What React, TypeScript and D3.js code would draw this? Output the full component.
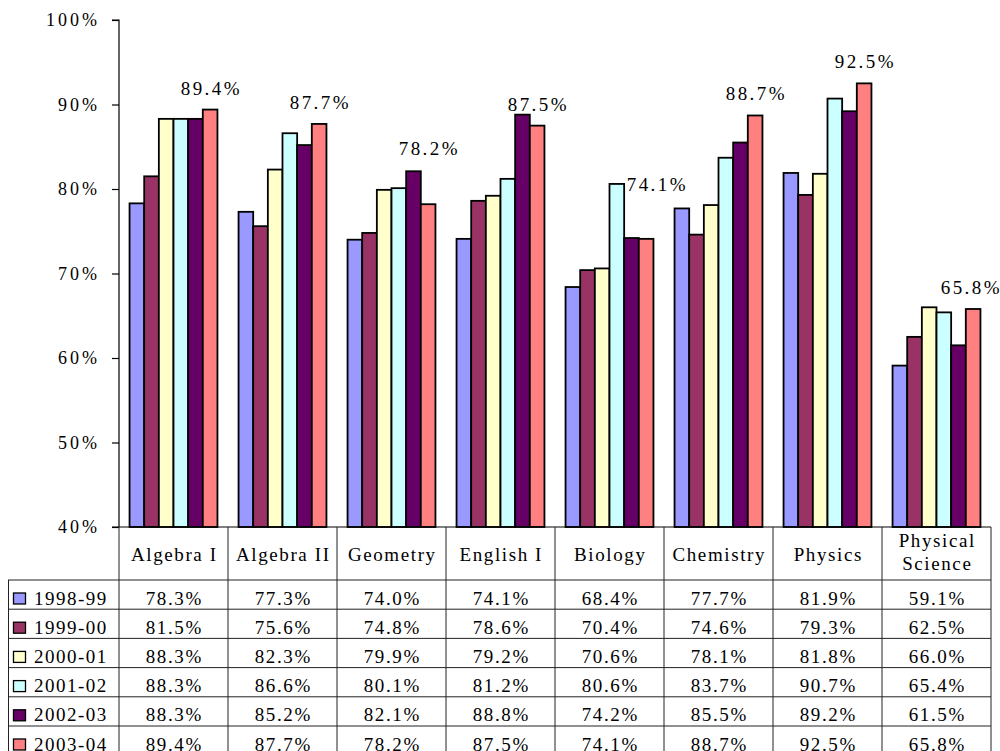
import React, { useEffect, useRef } from 'react';
import * as d3 from 'd3';

const subjects = ['Algebra I', 'Algebra II', 'Geometry', 'English I', 'Biology', 'Chemistry', 'Physics', 'Physical Science'];
const years = ['1998-99', '1999-00', '2000-01', '2001-02', '2002-03', '2003-04'];
const colors = ['#9999FF', '#993366', '#FFFFCC', '#CCFFFF', '#660066', '#FF8080'];

const v1998 = [78.3, 77.3, 74.0, 74.1, 68.4, 77.7, 81.9, 59.1];
const v1999 = [81.5, 75.6, 74.8, 78.6, 70.4, 74.6, 79.3, 62.5];
const v2000 = [88.3, 82.3, 79.9, 79.2, 70.6, 78.1, 81.8, 66.0];
const v2001 = [88.3, 86.6, 80.1, 81.2, 80.6, 83.7, 90.7, 65.4];
const v2002 = [88.3, 85.2, 82.1, 88.8, 74.2, 85.5, 89.2, 61.5];
const v2003 = [89.4, 87.7, 78.2, 87.5, 74.1, 88.7, 92.5, 65.8];
const series = [v1998, v1999, v2000, v2001, v2002, v2003];

const yTicks = [40, 50, 60, 70, 80, 90, 100];

// labels that were dragged away from their bars in the original (pixels)
const labelNudgeY = [0, 0, -34, 0, -33, 0, 0, 0];
const labelNudgeX = [0, 0, 0, 0, 10, 0, 0, -3];

export default function App() {
  const svgRef = useRef<SVGSVGElement>(null);

  const W = 1000;
  const H = 751;
  const left = 119;
  const right = 991;
  const top = 20;
  const bottom = 527;
  const headerBottom = 580;
  const rowH = 29.2;
  const font = 'Liberation Serif, Times New Roman, serif';

  useEffect(() => {
    const svg = d3.select(svgRef.current);
    svg.selectAll('*').remove();

    const x = d3.scaleBand<string>().domain(subjects).range([left, right]).paddingInner(0).paddingOuter(0);
    const x1 = d3.scaleBand<string>().domain(years).range([0, x.bandwidth()]).paddingOuter(0.72).paddingInner(0);
    const y = d3.scaleLinear().domain([40, 100]).range([bottom, top]);

    // bars
    const groups = svg.append('g')
      .selectAll('g')
      .data(subjects)
      .join('g')
      .attr('transform', d => `translate(${x(d)},0)`);

    groups.selectAll('rect')
      .data((d, i) => series.map((s, k) => ({ year: years[k], value: s[i], k })))
      .join('rect')
      .attr('x', d => x1(d.year)!)
      .attr('y', d => y(d.value))
      .attr('width', x1.bandwidth())
      .attr('height', d => bottom - y(d.value))
      .attr('fill', d => colors[d.k])
      .attr('stroke', '#000')
      .attr('stroke-width', 1.8);

    // value labels for latest year
    const ls = 2.4;
    groups.append('text')
      .attr('x', (d, i) => x1('2003-04')! + x1.bandwidth() / 2 + ls / 2 + labelNudgeX[i])
      .attr('y', (d, i) => y(v2003[i]) - 15 + labelNudgeY[i])
      .attr('text-anchor', 'middle')
      .attr('font-family', font)
      .attr('font-size', 19)
      .attr('letter-spacing', ls)
      .attr('fill', '#000')
      .text((d, i) => `${v2003[i].toFixed(1)}%`);

    // y axis
    const tls = 3;
    const yaxis = d3.axisLeft(y)
      .tickValues(yTicks)
      .tickSize(7)
      .tickFormat(d => `${d}%`);
    const ya = svg.append('g')
      .attr('transform', `translate(${left},0)`)
      .call(yaxis);
    ya.select('.domain').attr('stroke', '#000').attr('stroke-width', 1.2).attr('d', `M-7,${top}H0V${bottom}`);
    ya.selectAll('.tick line').attr('stroke', '#000').attr('stroke-width', 1.2);
    ya.selectAll('.tick text')
      .attr('x', -22 + tls)
      .attr('dy', '0.33em')
      .attr('font-family', font)
      .attr('font-size', 18)
      .attr('letter-spacing', tls)
      .attr('fill', '#000');

    // data table
    const table = svg.append('g');
    const lineColor = '#222';
    table.append('line')
      .attr('x1', left - 7).attr('x2', right)
      .attr('y1', bottom).attr('y2', bottom)
      .attr('stroke', '#000').attr('stroke-width', 1.2);

    const colEdges = subjects.map(s => x(s)!).concat([right]);
    table.selectAll('line.col')
      .data(colEdges)
      .join('line')
      .attr('class', 'col')
      .attr('x1', d => d).attr('x2', d => d)
      .attr('y1', bottom).attr('y2', H + 10)
      .attr('stroke', lineColor).attr('stroke-width', 1);

    table.append('line')
      .attr('x1', 8.5).attr('x2', 8.5)
      .attr('y1', headerBottom).attr('y2', H + 10)
      .attr('stroke', lineColor).attr('stroke-width', 1);

    const rowTops = years.map((_, i) => headerBottom + i * rowH).concat([headerBottom + years.length * rowH]);
    table.selectAll('line.row')
      .data(rowTops)
      .join('line')
      .attr('class', 'row')
      .attr('x1', 8).attr('x2', right)
      .attr('y1', d => d).attr('y2', d => d)
      .attr('stroke', lineColor).attr('stroke-width', 1);

    // header labels
    const hls = 1.6;
    const header = table.selectAll('text.head')
      .data(subjects)
      .join('text')
      .attr('class', 'head')
      .attr('text-anchor', 'middle')
      .attr('font-family', font)
      .attr('font-size', 19)
      .attr('letter-spacing', hls)
      .attr('fill', '#000');
    header.each(function (d) {
      const t = d3.select(this);
      const cx = x(d)! + x.bandwidth() / 2 + hls / 2;
      const words = d === 'Physical Science' ? ['Physical', 'Science'] : [d];
      if (words.length === 1) {
        t.append('tspan').attr('x', cx).attr('y', 561).text(words[0]);
      } else {
        t.append('tspan').attr('x', cx).attr('y', 547).text(words[0]);
        t.append('tspan').attr('x', cx).attr('y', 570).text(words[1]);
      }
    });

    // rows
    const vls = 1.6;
    years.forEach((yr, k) => {
      const rt = headerBottom + k * rowH;
      table.append('rect')
        .attr('x', 13.5).attr('y', rt + 13)
        .attr('width', 12).attr('height', 11)
        .attr('fill', colors[k])
        .attr('stroke', '#000').attr('stroke-width', 1.3);
      table.append('text')
        .attr('x', 34).attr('y', rt + 24.5)
        .attr('font-family', font)
        .attr('font-size', 19)
        .attr('letter-spacing', 1.5)
        .attr('fill', '#000')
        .text(yr);
      table.selectAll(`text.val${k}`)
        .data(series[k])
        .join('text')
        .attr('class', `val${k}`)
        .attr('x', (d, i) => x(subjects[i])! + x.bandwidth() / 2 + vls / 2)
        .attr('y', rt + 24.5)
        .attr('text-anchor', 'middle')
        .attr('font-family', font)
        .attr('font-size', 19)
        .attr('letter-spacing', vls)
        .attr('fill', '#000')
        .text(d => `${d.toFixed(1)}%`);
    });
  });

  return (
    <svg
      ref={svgRef}
      width={W}
      height={H}
      style={{ position: 'absolute', left: 0, top: 0, background: '#fff' }}
    />
  );
}
